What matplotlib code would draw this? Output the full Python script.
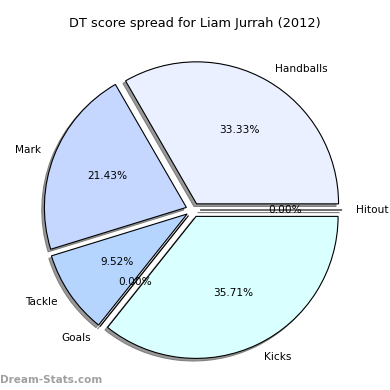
import matplotlib
matplotlib.use("Agg")
import matplotlib.pyplot as plt

title = "DT score spread for Liam Jurrah (2012)"
categories = ["Handballs", "Mark", "Tackle", "Goals", "Kicks", "Hitout"]
scores = [14, 9, 4, 0, 15, 0]
colors = ["#EAF0FF", "#C6D7FF", "#B5D5FF", "#A8C8FF", "#D9FFFF", "#E0E8FF"]

fig = plt.figure(figsize=(3.9, 3.9), dpi=100)
ax = fig.add_axes([15.5 / 390, 2.5 / 390, 355 / 390, 355 / 390])
ax.pie(scores, labels=categories, colors=colors, explode=[0.05] * len(scores),
       autopct="%.2f%%", startangle=0, counterclock=True,
       shadow={"ox": -0.013, "oy": -0.013, "facecolor": "#999999",
               "edgecolor": "#808080", "alpha": 1.0},
       wedgeprops={"edgecolor": "black", "linewidth": 0.8},
       textprops={"fontsize": 7.6})
ax.set_aspect("equal")
fig.text(0.5, 1 - 23 / 390, title, ha="center", va="center", fontsize=9.3)
fig.text(0.0, 1 - 380 / 390, "Dream-Stats.com", ha="left", va="center",
         fontsize=7.5, color="#A0A0A0", fontweight="bold")
fig.savefig("out.png", dpi=100)
